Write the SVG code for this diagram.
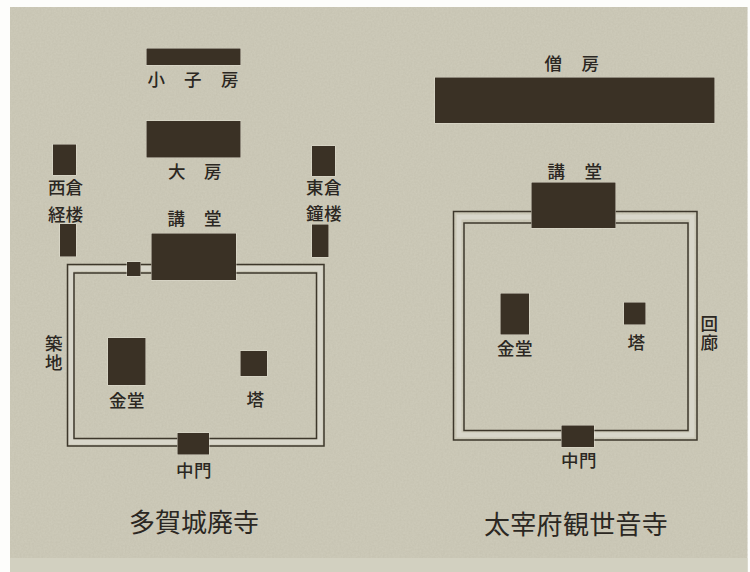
<svg xmlns="http://www.w3.org/2000/svg" width="750" height="572" viewBox="0 0 750 572">
<defs>
<filter id="paper" x="0" y="0" width="100%" height="100%"><feTurbulence type="fractalNoise" baseFrequency="0.55" numOctaves="2" seed="4"/><feColorMatrix values="0 0 0 0 .35  0 0 0 0 .33  0 0 0 0 .25  0 0 0 .22 -.04"/></filter>
</defs>
<style>
.b{fill:#3a3125;stroke:#eeecdf;stroke-width:.7;paint-order:stroke}
.w{fill:none;stroke:#3d372b;stroke-width:1.5}
.h{fill:none;stroke:#d8d6ca;stroke-width:5}
text{font-family:"Noto Sans CJK JP","Noto Sans",sans-serif;fill:#2b2722;font-size:17.500px;font-weight:500}
.m{font-size:16.500px}
.t{font-size:26px;font-weight:400}
</style>
<rect width="750" height="572" fill="#fdfdfb"/>
<rect x="10" y="7" width="737.500" height="565" fill="#cdcab9"/>
<rect x="10" y="7" width="737.500" height="551" filter="url(#paper)"/>
<rect x="10" y="558" width="737.500" height="14" fill="#d2d0c0"/>
<g id="walls">
<rect class="h" x="71" y="268.500" width="249" height="173.500"/>
<rect class="h" x="459" y="217" width="233" height="218"/>
<rect class="w" x="67.500" y="264.500" width="256.500" height="181.500"/>
<rect class="w" x="74" y="273" width="242.500" height="165.500"/>
<rect class="w" x="453.500" y="211.500" width="243.500" height="228.500"/>
<rect class="w" x="464" y="223" width="224" height="207.500"/>
</g>
<g id="kogobo"><rect class="b" x="146.500" y="48.500" width="94" height="16.500"/><text x="147.500 184 221" y="86">小子房</text></g>
<g id="daibo"><rect class="b" x="146.500" y="121" width="94" height="36.500"/><text x="168 204" y="177.500">大房</text></g>
<g id="saiso"><rect class="b" x="53" y="144.500" width="23" height="30.500"/><text x="48 65.500" y="193.500">西倉</text></g>
<g id="kyoro"><rect class="b" x="60" y="224" width="16" height="32.500"/><text x="48 65.500" y="220.500">経楼</text></g>
<g id="toso"><rect class="b" x="312" y="146" width="23" height="30"/><text x="306 324" y="193.500">東倉</text></g>
<g id="shoro"><rect class="b" x="312" y="224.500" width="16.500" height="32.500"/><text x="306 324" y="219.500">鐘楼</text></g>
<g id="kodo-a"><rect class="b" x="151.500" y="233.500" width="84.500" height="46.500"/><rect class="b" x="127" y="262" width="13.500" height="14"/><text x="167.500 204" y="224.500">講堂</text></g>
<g id="kondo-a"><rect class="b" x="108" y="338" width="37.500" height="47"/><text x="109 127" y="406.500">金堂</text></g>
<g id="to-a"><rect class="b" x="240.500" y="351" width="26.500" height="25"/><text x="246.500" y="405.500">塔</text></g>
<g id="chumon-a"><rect class="b" x="177.500" y="433" width="31.500" height="21.500"/><text x="176 194" y="477">中門</text></g>
<g id="tsuiji"><text x="45 45" y="349.500 368.500">築地</text></g>
<g id="title-a"><text class="t" x="129 155 181 207 233" y="531.500">多賀城廃寺</text></g>
<g id="sobo"><rect class="b" x="435" y="77.500" width="279.500" height="45.500"/><text x="544.500 581.500" y="69.500">僧房</text></g>
<g id="kodo-b"><rect class="b" x="531.500" y="182.500" width="84" height="45.500"/><text x="547.500 584.500" y="178">講堂</text></g>
<g id="kondo-b"><rect class="b" x="500.500" y="293.500" width="28.500" height="41"/><text x="497 515" y="354.500">金堂</text></g>
<g id="to-b"><rect class="b" x="624" y="302.500" width="21.500" height="22"/><text x="627.500" y="348.500">塔</text></g>
<g id="chumon-b"><rect class="b" x="561.500" y="425.500" width="32.500" height="21.500"/><text x="561 579" y="466.500">中門</text></g>
<g id="kairo"><text x="700.500 700.500" y="329.500 348.500">回廊</text></g>
<g id="title-b"><text class="t" x="484 510.300 536.600 562.900 589.200 615.500 641.800" y="533.500">太宰府観世音寺</text></g>
</svg>
